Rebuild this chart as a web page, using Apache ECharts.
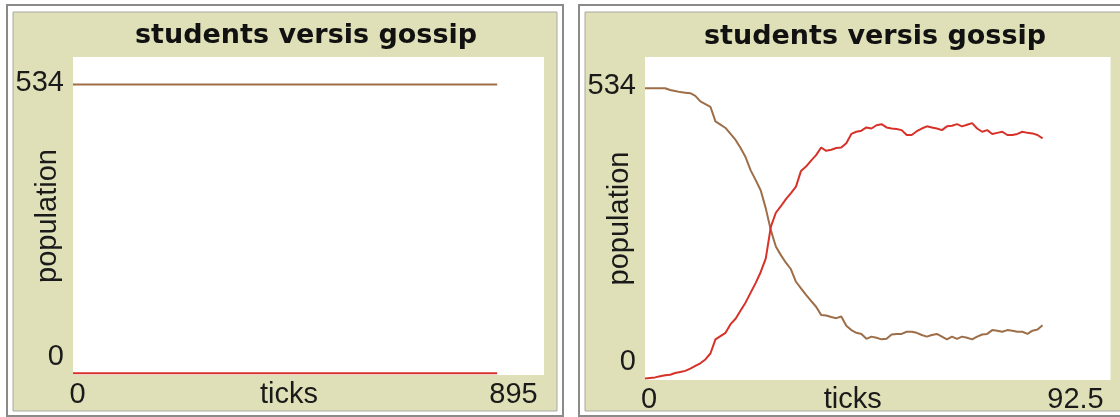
<!DOCTYPE html>
<html><head><meta charset="utf-8">
<script src="https://cdn.jsdelivr.net/npm/echarts@6/dist/echarts.min.js"></script>
<style>html,body{margin:0;padding:0;background:#fff;}#c{width:1120px;height:417px;}</style>
</head><body><div id="c"></div>
<script>
// ---- text ----
const titleText = 'students versis gossip';
const xName = 'ticks';
const yName = 'population';

// ---- left plot (run at ~806 ticks, flat) ----
const leftTicks = [0, 806];
const leftStudents = [534, 534];
const leftGossip = [0, 0];
const leftXLabels = [0, 895];
const leftYLabels = [0, 534];

// ---- right plot (ticks 0..79) ----
const rightStudents = [534,534,534,534,534,531,529,527,526,525,520,510,505,500,473,467,461,450,439,424,
  407,383,365,346,313,273,243,227,213,201,178,166,154,143,132,117,116,113,111,114,
  97,89,84,82,73,77,75,72,73,81,82,82,86,86,84,80,77,80,82,77,
  72,77,73,77,75,72,77,81,82,89,88,86,89,88,86,86,82,88,90,98];
const rightGossip = [0,1,2,4,6,7,10,12,14,18,23,28,35,46,72,78,84,100,110,125,
  140,158,176,196,221,279,305,317,330,341,353,382,390,401,411,425,419,421,424,425,
  433,450,454,456,462,460,466,468,462,460,459,457,448,448,455,460,464,462,460,457,
  464,465,468,464,467,470,460,454,457,450,452,454,448,448,450,454,452,451,448,442];
const rightXLabels = [0, 92.5];
const rightYLabels = [0, 534];

const BEIGE = '#e0e0b8';
const BROWN = '#9d6e48';
const RED = '#d73229';
const FONT = '"Liberation Sans", Arial, sans-serif';
const LBL = 29;

function pairs(xs, ys) { return ys.map((v, i) => [xs[i], v]); }
function idx(ys) { return ys.map((v, i) => [i, v]); }

function xAxisFor(gridIndex, labels, lo, hi, namePadRight) {
  return {
    type: 'value', gridIndex, min: labels[0], max: labels[labels.length - 1],
    axisLine: {show: false}, axisTick: {show: false}, splitLine: {show: false},
    axisLabel: {
      customValues: labels, margin: 5, color: '#1a1a1a', fontFamily: FONT, fontSize: LBL,
      hideOverlap: false,
      formatter: v => (v === labels[0] ? '{lo|' + v + '}' : '{hi|' + v + '}'),
      rich: {
        lo: {fontFamily: FONT, fontSize: LBL, color: '#1a1a1a', padding: [0, 0, 0, lo]},
        hi: {fontFamily: FONT, fontSize: LBL, color: '#1a1a1a', padding: [0, hi, 0, 0]}
      }
    },
    name: xName, nameLocation: 'middle', nameGap: 5, nameMoveOverlap: false,
    nameTextStyle: {fontFamily: FONT, fontSize: LBL, color: '#1a1a1a', padding: [0, namePadRight, 0, 0], verticalAlign: 'top'}
  };
}
function yAxisFor(gridIndex, labels, min, max) {
  return {
    type: 'value', gridIndex, min, max,
    axisLine: {show: false}, axisTick: {show: false}, splitLine: {show: false},
    axisLabel: {
      customValues: labels, margin: 9, color: '#1a1a1a', fontFamily: FONT, fontSize: LBL,
      hideOverlap: false,
      formatter: v => (v === labels[0] ? '{lo|' + v + '}' : '{hi|' + v + '}'),
      rich: {
        lo: {fontFamily: FONT, fontSize: LBL, color: '#1a1a1a', padding: [0, 0, 32, 0]},
        hi: {fontFamily: FONT, fontSize: LBL, color: '#1a1a1a', padding: [0, 0, 4, 0]}
      }
    },
    name: yName, nameLocation: 'middle', nameGap: 11, nameRotate: 90, nameMoveOverlap: false,
    nameTextStyle: {fontFamily: FONT, fontSize: LBL, color: '#1a1a1a'}
  };
}
function line(name, color, xi, data) {
  return {type: 'line', name, xAxisIndex: xi, yAxisIndex: xi, data, showSymbol: false,
    symbol: 'none', lineStyle: {color, width: 2}, itemStyle: {color}, animation: false, silent: true};
}

const chart = echarts.init(document.getElementById('c'), null, {renderer: 'canvas'});
chart.setOption({
  animation: false,
  backgroundColor: '#ffffff',
  graphic: {elements: [
    {type: 'rect', z: -10, shape: {x: 7, y: 5, width: 556, height: 411}, style: {fill: '#ffffff', stroke: '#8a8a8a', lineWidth: 2}},
    {type: 'rect', z: -9, shape: {x: 13, y: 12, width: 544, height: 399}, style: {fill: BEIGE, stroke: '#a8a8a0', lineWidth: 1}},
    {type: 'rect', z: -10, shape: {x: 579, y: 5, width: 600, height: 411}, style: {fill: '#ffffff', stroke: '#8a8a8a', lineWidth: 2}},
    {type: 'rect', z: -9, shape: {x: 585, y: 12, width: 600, height: 399}, style: {fill: BEIGE, stroke: '#a8a8a0', lineWidth: 1}}
  ]},
  title: [
    {text: titleText, left: 306, top: 22, textAlign: 'center', padding: 0,
     textStyle: {fontFamily: '"DejaVu Sans", sans-serif', fontWeight: 'bold', fontSize: 27, color: '#111'}},
    {text: titleText, left: 875, top: 23, textAlign: 'center', padding: 0,
     textStyle: {fontFamily: '"DejaVu Sans", sans-serif', fontWeight: 'bold', fontSize: 27, color: '#111'}}
  ],
  grid: [
    {left: 73, top: 57, width: 471, height: 318, show: true, backgroundColor: '#ffffff', borderWidth: 0,
     containLabel: false, outerBoundsMode: 'none'},
    {left: 645, top: 57, width: 465.5, height: 323, show: true, backgroundColor: '#ffffff', borderWidth: 0,
     containLabel: false, outerBoundsMode: 'none'}
  ],
  xAxis: [
    xAxisFor(0, leftXLabels, 9, 61, 39),
    xAxisFor(1, rightXLabels, 8, 70, 50)
  ],
  yAxis: [
    yAxisFor(0, leftYLabels, -3.1, 584.9),
    yAxisFor(1, rightYLabels, -2.8, 591.6)
  ],
  series: [
    line('students', BROWN, 0, pairs(leftTicks, leftStudents)),
    line('gossip', RED, 0, pairs(leftTicks, leftGossip)),
    line('students', BROWN, 1, idx(rightStudents)),
    line('gossip', RED, 1, idx(rightGossip))
  ]
});
</script></body></html>
